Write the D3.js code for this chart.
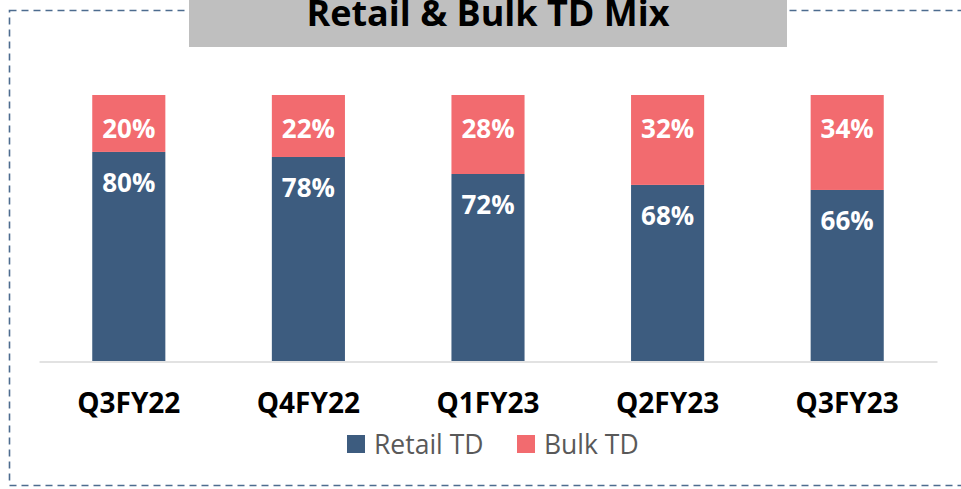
<!DOCTYPE html>
<html>
<head>
<meta charset="utf-8">
<script src="https://cdn.jsdelivr.net/npm/d3@7"></script>
<style>
    body { margin: 0; background: #fff; }
    text { font-family: "Open Sans", sans-serif; }
</style>
</head>
<body>
<div id="chart"></div>
<script>
let w = 961;
let h = 489;
let margin = {top: 95, right: 24, bottom: 128, left: 39};

// values as drawn (bar heights), and the labels printed on the bars
let quarters = ['Q3FY22', 'Q4FY22', 'Q1FY23', 'Q2FY23', 'Q3FY23'];
let retailShare = [78.6, 76.7, 70.3, 66.2, 64.3];
let bulkShare = [21.4, 23.3, 29.7, 33.8, 35.7];
let retailLabels = ['80%', '78%', '72%', '68%', '66%'];
let bulkLabels = ['20%', '22%', '28%', '32%', '34%'];
let seriesNames = ['Retail TD', 'Bulk TD'];

const retailColor = '#3d5c7f';
const bulkColor = '#f26b6f';

let svg = d3.select('#chart')
    .append('svg')
    .attr('width', w)
    .attr('height', h);

// dashed frame (right side runs off the picture)
svg.append('rect')
    .attr('x', 9.5)
    .attr('y', 10.5)
    .attr('width', 960)
    .attr('height', 475)
    .attr('fill', 'none')
    .attr('stroke', '#4d6c8f')
    .attr('stroke-width', 1.6)
    .attr('stroke-dasharray', '7,5');

// title box
svg.append('rect')
    .attr('x', 189)
    .attr('y', 0)
    .attr('width', 598)
    .attr('height', 47)
    .attr('fill', '#bfbfbf');

svg.append('text')
    .attr('x', 488)
    .attr('y', 26)
    .attr('text-anchor', 'middle')
    .style('font-size', '36px')
    .style('font-weight', 'bold')
    .attr('fill', '#000')
    .text('Retail & Bulk TD Mix');

let xScale = d3.scaleBand()
    .domain(quarters)
    .range([margin.left, w - margin.right])
    .paddingInner(0.593)
    .paddingOuter(0.2965);

let yScale = d3.scaleLinear()
    .domain([0, 100])
    .range([h - margin.bottom, margin.top]);

let rows = quarters.map((q, i) => ({
    q: q,
    retail: retailShare[i],
    bulk: bulkShare[i],
    retailLabel: retailLabels[i],
    bulkLabel: bulkLabels[i]
}));

// retail segment
svg.selectAll('rect.retail')
    .data(rows)
    .enter()
    .append('rect')
    .attr('class', 'retail')
    .attr('x', d => xScale(d.q))
    .attr('width', xScale.bandwidth())
    .attr('y', d => yScale(d.retail))
    .attr('height', d => yScale(0) - yScale(d.retail))
    .attr('fill', retailColor);

// bulk segment on top
svg.selectAll('rect.bulk')
    .data(rows)
    .enter()
    .append('rect')
    .attr('class', 'bulk')
    .attr('x', d => xScale(d.q))
    .attr('width', xScale.bandwidth())
    .attr('y', d => yScale(d.retail + d.bulk))
    .attr('height', d => yScale(d.retail) - yScale(d.retail + d.bulk))
    .attr('fill', bulkColor);

let xAxis = d3.axisBottom(xScale)
    .tickSize(0)
    .tickPadding(32);

let xg = svg.append('g')
    .attr('class', 'xAxis')
    .attr('transform', 'translate(0,' + (h - margin.bottom + 0.5) + ')')
    .call(xAxis);

xg.select('.domain')
    .attr('stroke', '#d9d9d9')
    .attr('stroke-width', 1.3);

xg.selectAll('text')
    .style('font-family', '"Open Sans", sans-serif')
    .style('font-size', '28px')
    .style('font-weight', 'bold')
    .attr('fill', '#000');

// data labels, inside end of each segment
svg.selectAll('text.retailLbl')
    .data(rows)
    .enter()
    .append('text')
    .attr('class', 'retailLbl')
    .attr('x', d => xScale(d.q) + xScale.bandwidth() / 2)
    .attr('y', d => yScale(d.retail) + 40)
    .attr('text-anchor', 'middle')
    .style('font-size', '26px')
    .style('font-weight', 'bold')
    .attr('fill', '#fff')
    .text(d => d.retailLabel);

svg.selectAll('text.bulkLbl')
    .data(rows)
    .enter()
    .append('text')
    .attr('class', 'bulkLbl')
    .attr('x', d => xScale(d.q) + xScale.bandwidth() / 2)
    .attr('y', d => yScale(d.retail + d.bulk) + 43)
    .attr('text-anchor', 'middle')
    .style('font-size', '26px')
    .style('font-weight', 'bold')
    .attr('fill', '#fff')
    .text(d => d.bulkLabel);

// legend
let legendX = [347, 517];
let legend = svg.selectAll('g.legend')
    .data(seriesNames)
    .enter()
    .append('g')
    .attr('class', 'legend')
    .attr('transform', (d, i) => 'translate(' + legendX[i] + ',435)');

legend.append('rect')
    .attr('width', 18)
    .attr('height', 18)
    .attr('fill', (d, i) => i === 0 ? retailColor : bulkColor);

legend.append('text')
    .attr('x', 27)
    .attr('y', 18.5)
    .style('font-size', '26.5px')
    .attr('fill', '#595959')
    .text(d => d);
</script>
</body>
</html>
